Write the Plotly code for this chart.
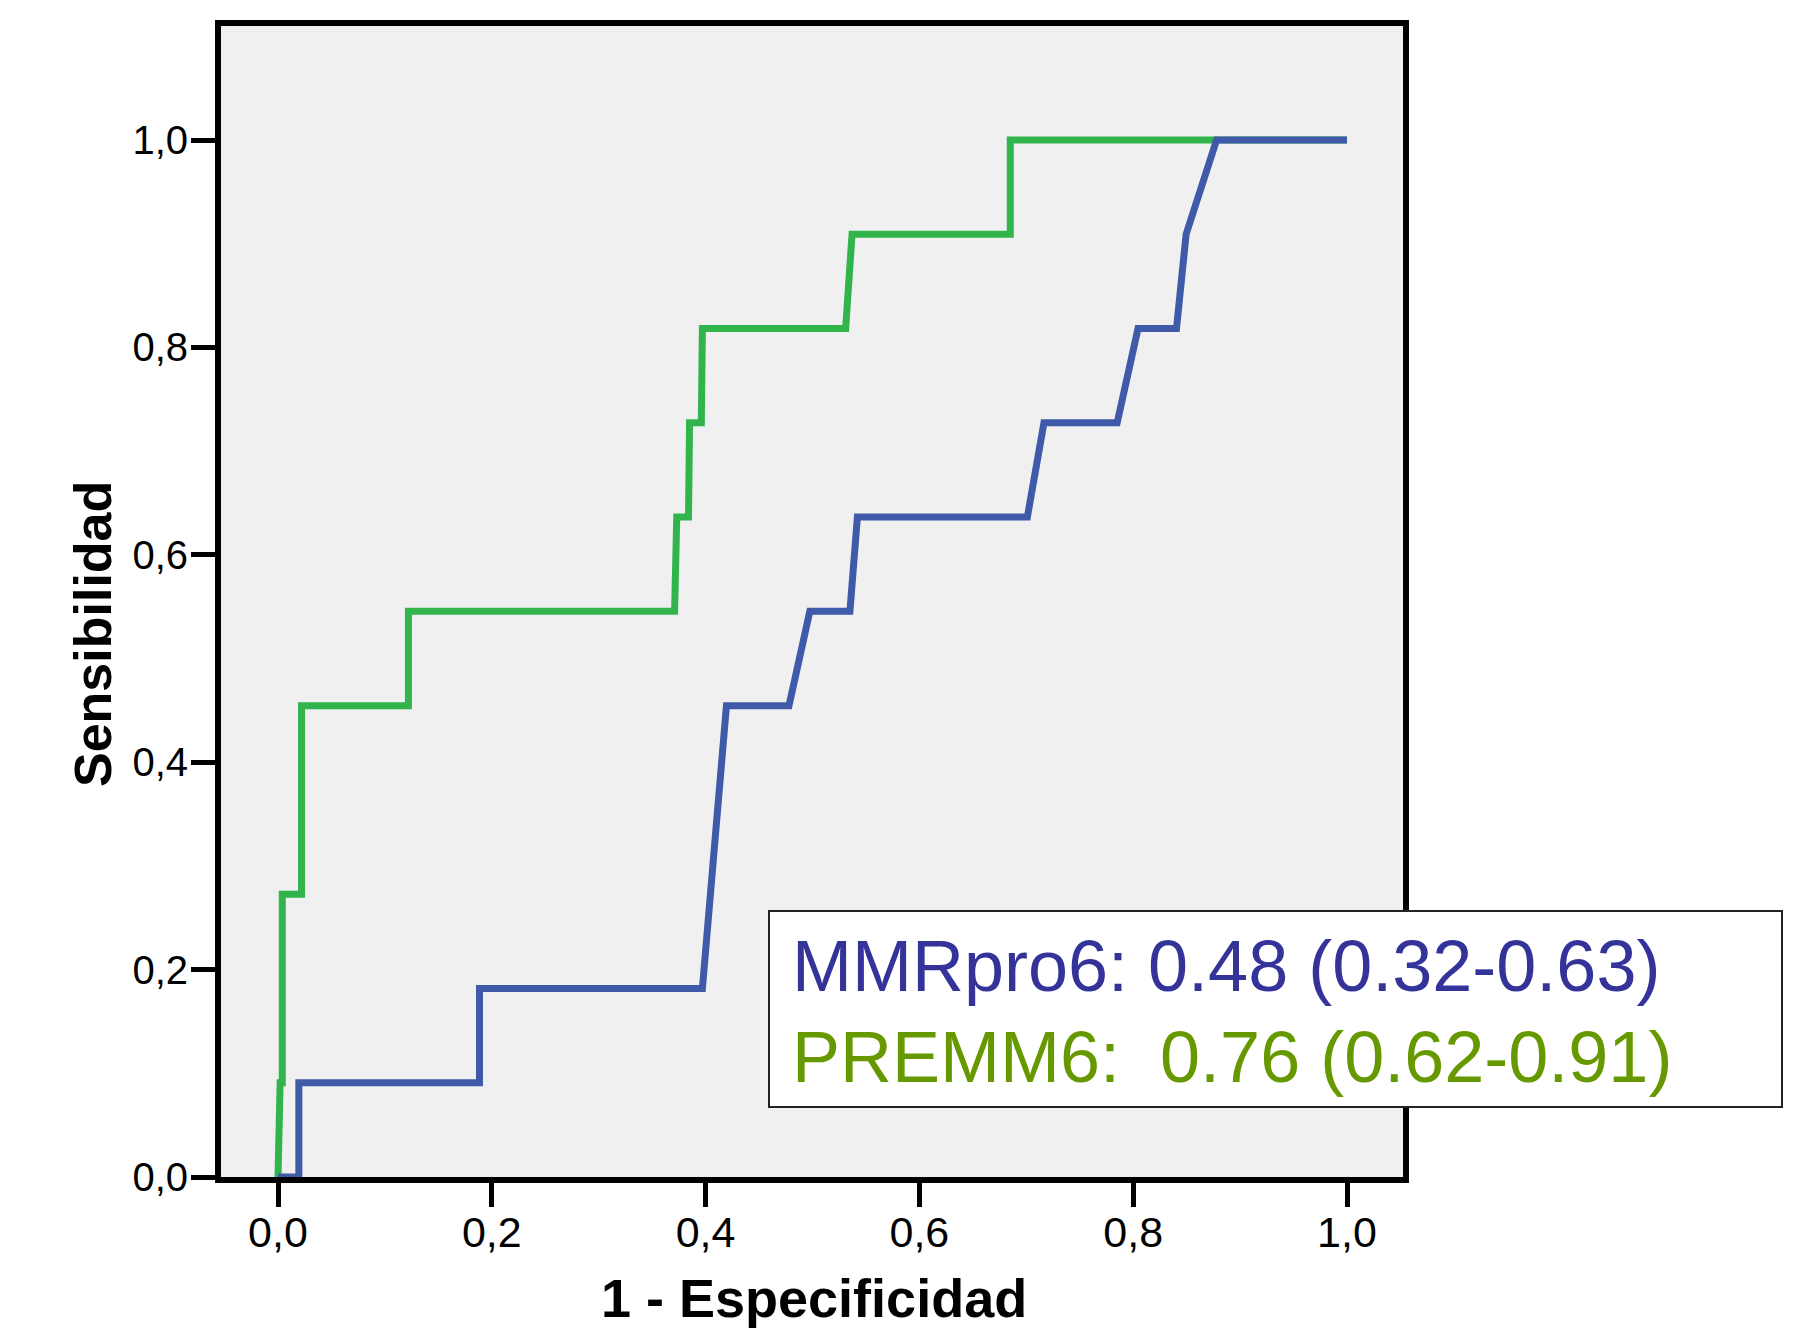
import plotly.graph_objects as go

# ---- data ----
premm6_fpr = [0.0, 0.002, 0.004, 0.004, 0.022, 0.022, 0.122, 0.122, 0.371, 0.373, 0.384, 0.385,
              0.396, 0.397, 0.531, 0.533, 0.537, 0.685, 0.685, 1.0]
premm6_tpr = [0.0, 0.0909, 0.0909, 0.2727, 0.2727, 0.4545, 0.4545, 0.5455, 0.5455, 0.6364, 0.6364,
              0.7273, 0.7273, 0.8182, 0.8182, 0.8500, 0.9091, 0.9091, 1.0, 1.0]

mmrpro6_fpr = [0.0, 0.0195, 0.0195, 0.1885, 0.1885, 0.397, 0.4195, 0.478, 0.4975, 0.535, 0.542,
               0.701, 0.7165, 0.785, 0.8045, 0.8405, 0.8495, 0.878, 1.0]
mmrpro6_tpr = [0.0, 0.0, 0.0909, 0.0909, 0.1818, 0.1818, 0.4545, 0.4545, 0.5455, 0.5455, 0.6364,
               0.6364, 0.7273, 0.7273, 0.8182, 0.8182, 0.9091, 1.0, 1.0]

tick_vals = [0.0, 0.2, 0.4, 0.6, 0.8, 1.0]
tick_text = ["0,0", "0,2", "0,4", "0,6", "0,8", "1,0"]

legend_lines = ["MMRpro6: 0.48 (0.32-0.63)", "PREMM6:\u00a0 0.76 (0.62-0.91)"]
legend_colors = ["#333399", "#669900"]

x_title = "1 - Especificidad"
y_title = "Sensibilidad"

# ---- layout geometry (pixels) ----
W, H = 1818, 1331
L, R, T, B = 221, 1403, 26, 1177

def px(x):
    return (x - L) / (R - L)

def py(y):
    return (B - y) / (B - T)

fig = go.Figure()
fig.add_trace(go.Scatter(x=premm6_fpr, y=premm6_tpr, mode="lines",
                         line=dict(color="#31B44B", width=7), name="PREMM6"))
fig.add_trace(go.Scatter(x=mmrpro6_fpr, y=mmrpro6_tpr, mode="lines",
                         line=dict(color="#3F5AA9", width=7), name="MMRpro6"))

axis_common = dict(showgrid=False, zeroline=False, showline=True, linecolor="black",
                   linewidth=6, mirror=True, ticks="outside", tickcolor="black",
                   tickwidth=5, ticklen=24, tickvals=tick_vals, ticktext=tick_text)

fig.update_layout(
    width=W, height=H,
    margin=dict(l=L, r=W - R, t=T, b=H - B, pad=0),
    paper_bgcolor="white", plot_bgcolor="#F0F0F0",
    showlegend=False,
    xaxis=dict(range=[(L - 278) / 1069, (R - 278) / 1069],
               tickfont=dict(family="Liberation Sans, Arial", size=43, color="black"),
               ticklabelstandoff=-12,
               **axis_common),
    yaxis=dict(range=[0.0, (B - T) / (B - 140)],
               tickfont=dict(family="Liberation Sans, Arial", size=40, color="black"),
               ticklabelstandoff=-5,
               **axis_common),
)

# legend box
fig.add_shape(type="rect", xref="paper", yref="paper",
              x0=px(769), x1=px(1782), y0=py(1107), y1=py(911),
              fillcolor="white", line=dict(color="#222222", width=2), layer="above")

legend_y = [966, 1057]
for txt, col, yy in zip(legend_lines, legend_colors, legend_y):
    fig.add_annotation(text=txt, xref="paper", yref="paper", x=px(790), y=py(yy),
                       xanchor="left", yanchor="middle", showarrow=False,
                       font=dict(family="Liberation Sans, Arial", size=72, color=col))

fig.add_annotation(text="<b>%s</b>" % x_title, xref="paper", yref="paper",
                   x=px(814), y=py(1298), xanchor="center", yanchor="middle", showarrow=False,
                   font=dict(family="Liberation Sans, Arial", size=54, color="black"))
fig.add_annotation(text="<b>%s</b>" % y_title, xref="paper", yref="paper",
                   x=px(93), y=py(634), xanchor="center", yanchor="middle", showarrow=False,
                   textangle=-90,
                   font=dict(family="Liberation Sans, Arial", size=52, color="black"))

fig.write_html("out.html")
